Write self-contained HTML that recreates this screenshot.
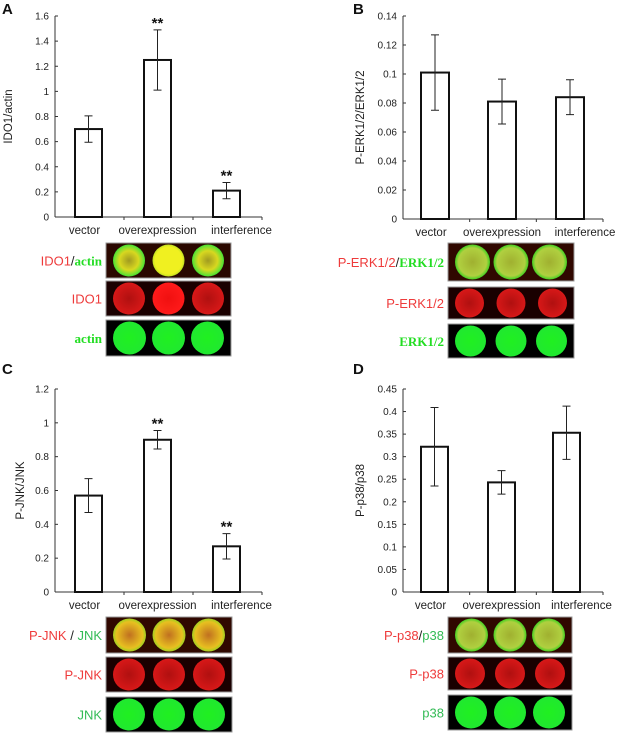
<!DOCTYPE html>
<html><head><meta charset="utf-8"><style>
html,body{margin:0;padding:0;background:#fff;}
svg{display:block;font-family:"Liberation Sans",Arial,sans-serif;}
</style></head><body>
<svg id="fig" width="630" height="733" viewBox="0 0 630 733" xmlns="http://www.w3.org/2000/svg">
<defs>
<radialGradient id="gY"><stop offset="0" stop-color="#a09a20"/><stop offset="0.6" stop-color="#d8d820"/><stop offset="0.9" stop-color="#70e030"/><stop offset="1" stop-color="#40e030"/></radialGradient>
<radialGradient id="gY2"><stop offset="0" stop-color="#f0f020"/><stop offset="0.85" stop-color="#f0f020"/><stop offset="1" stop-color="#c0e020"/></radialGradient>
<radialGradient id="gR"><stop offset="0" stop-color="#f01010"/><stop offset="1" stop-color="#ff1a1a"/></radialGradient>
<radialGradient id="gRd"><stop offset="0" stop-color="#b01010"/><stop offset="1" stop-color="#d81818"/></radialGradient>
<radialGradient id="gG"><stop offset="0" stop-color="#20f020"/><stop offset="1" stop-color="#20e830"/></radialGradient>
<radialGradient id="gYG"><stop offset="0" stop-color="#a0b030"/><stop offset="0.8" stop-color="#b0d040"/><stop offset="1" stop-color="#40d020"/></radialGradient>
<radialGradient id="gO"><stop offset="0" stop-color="#c07020"/><stop offset="0.8" stop-color="#e8c020"/><stop offset="1" stop-color="#a0d020"/></radialGradient>
</defs>
</svg>
<script>
const categories = ["vector","overexpression","interference"];
const valuesA = [0.70, 1.25, 0.21];
const errA = [0.105, 0.24, 0.065];
const starsA = ["", "**", "**"];
const ticksA = ["0","0.2","0.4","0.6","0.8","1","1.2","1.4","1.6"];
const valuesB = [0.101, 0.081, 0.084];
const errB = [0.026, 0.0155, 0.012];
const starsB = ["", "", ""];
const ticksB = ["0","0.02","0.04","0.06","0.08","0.1","0.12","0.14"];
const valuesC = [0.57, 0.90, 0.27];
const errC = [0.10, 0.055, 0.075];
const starsC = ["", "**", "**"];
const ticksC = ["0","0.2","0.4","0.6","0.8","1","1.2"];
const valuesD = [0.322, 0.243, 0.353];
const errD = [0.087, 0.026, 0.059];
const starsD = ["", "", ""];
const ticksD = ["0","0.05","0.1","0.15","0.2","0.25","0.3","0.35","0.4","0.45"];

const svg = document.getElementById('fig');
const NS = "http://www.w3.org/2000/svg";
function mk(tag, attrs, parent){const e=document.createElementNS(NS,tag);for(const k in attrs)e.setAttribute(k,attrs[k]);(parent||svg).appendChild(e);return e;}
const labelDx=[-4,0,15];

function chart(cfg){
  const g = mk('g',{});
  
  
  const {x0,x1,yTop,yZero,max,ticks,values,errs,stars,bx,bw,ylabel,letter,lx,ly} = cfg;
  const y = v => yZero - (v/max)*(yZero-yTop);
  const L = mk('text',{x:lx,y:ly,'font-size':15,'font-weight':'bold',fill:'#111'},g); L.textContent=letter;
  
  
  mk('line',{x1:x0,y1:yTop,x2:x0,y2:yZero,stroke:'#333','stroke-width':1},g);
  mk('line',{x1:x0,y1:yZero,x2:x1,y2:yZero,stroke:'#333','stroke-width':1},g);
  const step=(x1-x0)/3;
  for(let i=1;i<=3;i++) mk('line',{x1:x0+step*i,y1:yZero,x2:x0+step*i,y2:yZero+3,stroke:'#333'},g);
  ticks.forEach(t=>{
    const v=parseFloat(t), yy=y(v);
    mk('line',{x1:x0,y1:yy,x2:x0+3,y2:yy,stroke:'#333'},g);
    const tx=mk('text',{x:x0-6,y:yy+3.5,'font-size':10,'text-anchor':'end',fill:'#222'},g); tx.textContent=t;
    
    
  });
  const yl=mk('text',{x:0,y:0,'font-size':11.5,'text-anchor':'middle',fill:'#222',transform:`translate(${cfg.ylx},${(yTop+yZero)/2}) rotate(-90)`},g); yl.textContent=ylabel;
  
  
  values.forEach((v,i)=>{
    const bxi=bx[i];
    const r=mk('rect',{x:bxi,y:y(v),width:bw,height:yZero-y(v),fill:'#fff',stroke:'#111','stroke-width':2},g);
    
    
    const cx=bxi+bw/2, hi=y(v+errs[i]), lo=y(v-errs[i]);
    const eb=mk('path',{d:`M${cx},${hi}V${lo}M${cx-4},${hi}H${cx+4}M${cx-4},${lo}H${cx+4}`,stroke:'#222','stroke-width':1,fill:'none'},g);
    
    
    if(stars[i]){const s=mk('text',{x:cx,y:hi-2,'font-size':15,'font-weight':'bold','text-anchor':'middle',fill:'#111'},g); s.textContent=stars[i];
      
      }
    const cl=mk('text',{x:cx+labelDx[i],y:yZero+17,'font-size':11.5,'text-anchor':'middle',fill:'#222'},g); cl.textContent=categories[i];
    
    
  });
}
function blots(cfg){
  const g=mk('g',{});
  
  
  cfg.rows.forEach(r=>{
    const [ry,rh,fills,bg,labelParts]=r;
    mk('rect',{x:cfg.x,y:ry,width:cfg.w,height:rh,fill:bg,stroke:'#999','stroke-width':1},g);
    const rad=rh/2-1.5;
    const cxs=[cfg.x+rad+7, cfg.x+cfg.w/2, cfg.x+cfg.w-rad-7];
    for(let i=0;i<3;i++){
      const c=mk('circle',{cx:cxs[i],cy:ry+rh/2,r:rad,fill:fills[i]},g);
      
      
    }
    const t=mk('text',{x:cfg.x-4,y:ry+rh/2+5,'font-size':13,'text-anchor':'end'},g);
    
    
    labelParts.forEach(p=>{const s=mk('tspan',{fill:p[1]},t); if(p[2])s.setAttribute('font-family','"Liberation Serif",serif'); if(p[2])s.setAttribute('font-weight','bold'); s.textContent=p[0];});
  });
}
const RED="#ee3b3b", GRN="#22dd22", BLK="#222";
chart({id:'a',letter:'A',lx:2,ly:14,x0:55,x1:262,yTop:16,yZero:217,max:1.6,ticks:ticksA,values:valuesA,errs:errA,stars:starsA,bx:[75,144,213],bw:27,ylabel:'IDO1/actin',ylx:12});
chart({id:'b',letter:'B',lx:353,ly:14,x0:403,x1:603,yTop:16,yZero:219,max:0.14,ticks:ticksB,values:valuesB,errs:errB,stars:starsB,bx:[421,488,556],bw:28,ylabel:'P-ERK1/2/ERK1/2',ylx:364});
chart({id:'c',letter:'C',lx:2,ly:374,x0:55,x1:262,yTop:389,yZero:592,max:1.2,ticks:ticksC,values:valuesC,errs:errC,stars:starsC,bx:[75,144,213],bw:27,ylabel:'P-JNK/JNK',ylx:24});
chart({id:'d',letter:'D',lx:353,ly:374,x0:403,x1:603,yTop:389,yZero:592,max:0.45,ticks:ticksD,values:valuesD,errs:errD,stars:starsD,bx:[421,488,553],bw:27,ylabel:'P-p38/p38',ylx:364});
blots({id:'a',x:106,w:125,rows:[
 [243,35,['url(#gY)','url(#gY2)','url(#gY)'],'#2a0800',[['IDO1',RED],['/',BLK],['actin',GRN,1]]],
 [281,35,['url(#gRd)','url(#gR)','url(#gRd)'],'#1a0000',[['IDO1',RED]]],
 [320,36,['url(#gG)','url(#gG)','url(#gG)'],'#000',[['actin',GRN,1]]]]});
blots({id:'b',x:448,w:126,rows:[
 [243,38,['url(#gYG)','url(#gYG)','url(#gYG)'],'#300800',[['P-ERK1/2',RED],['/',BLK],['ERK1/2',GRN,1]]],
 [287,32,['url(#gRd)','url(#gRd)','url(#gRd)'],'#1a0000',[['P-ERK1/2',RED]]],
 [324,34,['url(#gG)','url(#gG)','url(#gG)'],'#000',[['ERK1/2',GRN,1]]]]});
blots({id:'c',x:106,w:126,rows:[
 [617,36,['url(#gO)','url(#gO)','url(#gO)'],'#300800',[['P-JNK',RED],[' / ',BLK],['JNK','#33bb55']]],
 [657,35,['url(#gRd)','url(#gRd)','url(#gRd)'],'#1a0000',[['P-JNK',RED]]],
 [697,35,['url(#gG)','url(#gG)','url(#gG)'],'#000',[['JNK','#33bb55']]]]});
blots({id:'d',x:448,w:124,rows:[
 [617,36,['url(#gYG)','url(#gYG)','url(#gYG)'],'#300800',[['P-p38',RED],['/',BLK],['p38','#33bb55']]],
 [657,33,['url(#gRd)','url(#gRd)','url(#gRd)'],'#1a0000',[['P-p38',RED]]],
 [695,35,['url(#gG)','url(#gG)','url(#gG)'],'#000',[['p38','#33bb55']]]]});
</script>
</body></html>
